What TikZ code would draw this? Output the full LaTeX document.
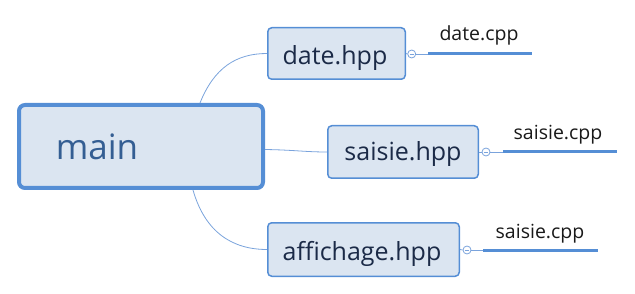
\documentclass[tikz,border=0pt]{standalone}
\usepackage{fontspec}
\setmainfont{Open Sans}
\usetikzlibrary{calc}
\definecolor{boxfill}{HTML}{DBE5F1}
\definecolor{boxline}{HTML}{558ED5}
\definecolor{linkline}{HTML}{7AA3DC}
\definecolor{maintext}{HTML}{345E93}
\definecolor{boxtext}{HTML}{1B2A47}
\begin{document}
\begin{tikzpicture}[x=1pt,y=-1pt,
  topicbox/.style={draw=boxline,fill=boxfill,line width=1.5pt,rounded corners=4pt,inner sep=0pt},
  rootbox/.style={draw=boxline,fill=boxfill,line width=4pt,rounded corners=6pt,inner sep=0pt},
  boxlabel/.style={anchor=base,inner sep=0pt,text=boxtext,font=\fontsize{25}{30}\selectfont},
  leaflabel/.style={anchor=base,inner sep=0pt,text=black!90,font=\fontsize{19.5}{23}\selectfont},
  link/.style={draw=linkline,line width=0.8pt},
  leafline/.style={draw=boxline,line width=3pt},
  knob/.style={circle,draw=linkline,fill=white,line width=0.8pt,minimum size=8pt,inner sep=0pt}]
\useasboundingbox (0,0) rectangle (635,294);

% root topic
\node[rootbox,minimum width=244pt,minimum height=83pt] (main) at (141,146.5) {};
\node[anchor=base,inner sep=0pt,text=maintext,font=\fontsize{35}{42}\selectfont] (maintxt) at (97,160) {main};

% headers
\node[topicbox,minimum width=137.5pt,minimum height=51.5pt] (date) at (336.5,53.5) {};
\node[boxlabel] (datetxt) at (335,65) {date.hpp};
\node[topicbox,minimum width=150.5pt,minimum height=52.5pt] (saisie) at (403,152) {};
\node[boxlabel] (saisietxt) at (403,161) {saisie.hpp};
\node[topicbox,minimum width=191.5pt,minimum height=53.5pt] (affich) at (363.5,249.5) {};
\node[boxlabel] (affichtxt) at (362,260) {affichage.hpp};

% branches from the root
\draw[link] ([xshift=59pt]main.north) .. controls (214,68) and (236,53.5) .. (date.west);
\draw[link] ([yshift=-3pt]main.east) .. controls (295,150) and (305,152) .. (saisie.west);
\draw[link] ([xshift=52pt]main.south) .. controls (205,232) and (232,249.5) .. (affich.west);

% collapse knobs
\node[knob] (k1) at (411.7,54) {};
\node[knob] (k2) at (486,152) {};
\node[knob] (k3) at (467,250) {};
\foreach \k in {k1,k2,k3}
  \draw[linkline,line width=0.8pt] ([xshift=-2.2pt]\k.center) -- ([xshift=2.2pt]\k.center);

% leaf topics
\coordinate (l1a) at (428,54);  \coordinate (l1b) at (532,54);
\coordinate (l2a) at (503,152); \coordinate (l2b) at (617,152);
\coordinate (l3a) at (483,250); \coordinate (l3b) at (598,250);
\draw[link] (date.east) -- (k1.west);
\draw[link] (k1.east) -- (l1a);
\draw[leafline] (l1a) -- (l1b);
\draw[link] (saisie.east) -- (k2.west);
\draw[link] (k2.east) -- (l2a);
\draw[leafline] (l2a) -- (l2b);
\draw[link] (affich.east) -- (k3.west);
\draw[link] (k3.east) -- (l3a);
\draw[leafline] (l3a) -- (l3b);

\node[leaflabel] (cpp1) at (479,41) {date.cpp};
\node[leaflabel] (cpp2) at (558,140) {saisie.cpp};
\node[leaflabel] (cpp3) at (540,238) {saisie.cpp};
\end{tikzpicture}
\end{document}
